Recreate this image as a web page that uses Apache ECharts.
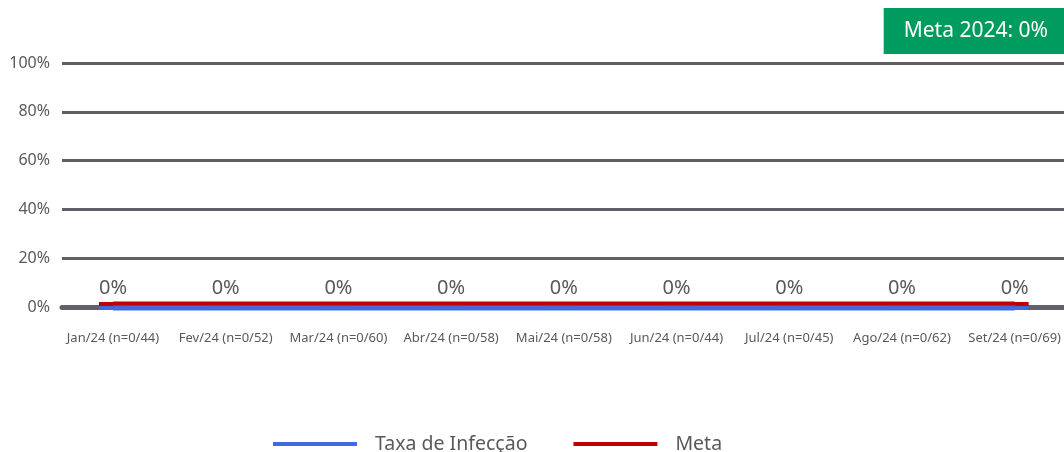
<!DOCTYPE html>
<html>
<head>
<meta charset="utf-8">
<script src="https://cdn.jsdelivr.net/npm/echarts@6/dist/echarts.min.js"></script>
<style>
    html, body {margin: 0; padding: 0; background: #fff;}
    #chart1 {width: 1064px; height: 452px;}
</style>
</head>
<body>
<div id="chart1"></div>
<script>
// dados do gráfico
var categories = ['Jan/24 (n=0/44)', 'Fev/24 (n=0/52)', 'Mar/24 (n=0/60)', 'Abr/24 (n=0/58)', 'Mai/24 (n=0/58)',
    'Jun/24 (n=0/44)', 'Jul/24 (n=0/45)', 'Ago/24 (n=0/62)', 'Set/24 (n=0/69)'];
var taxaInfeccao = [0, 0, 0, 0, 0, 0, 0, 0, 0];
var meta = [0, 0, 0, 0, 0, 0, 0, 0, 0];
var metaAnual = 'Meta 2024: 0%';
var yTicks = [0, 0.2, 0.4, 0.6, 0.8, 1];

window.onload = start_taxa();
function start_taxa() {
    var container = document.getElementById('chart1');
    var myChart = echarts.init(container);
    var fonte = 'Noto Sans';
    var cinza = '#595959';

    var option_taxa = {
        animation: false,
        backgroundColor: '#fff',
        title: {
            text: metaAnual,
            right: 0,
            top: 8,
            backgroundColor: '#009b5e',
            padding: [10, 16, 10, 20],
            textStyle: {
                color: '#fff',
                fontSize: 21,
                fontWeight: 'normal',
                fontFamily: fonte,
                lineHeight: 26
            }
        },
        legend: {
            data: ['Taxa de Infecção', 'Meta'],
            left: 268,
            top: 429,
            icon: 'rect',
            itemWidth: 84,
            itemHeight: 4,
            itemGap: 46,
            textStyle: {
                color: cinza,
                fontSize: 19.5,
                fontFamily: fonte,
                padding: [0, 0, 0, 13]
            }
        },
        grid: [
            {left: 62, right: 0, top: 63, bottom: 145},
            {left: 113, right: 45, top: 63, bottom: 145}
        ],
        xAxis: [
            {
                gridIndex: 0,
                type: 'value',
                min: 0,
                max: 1,
                axisLabel: {show: false},
                axisTick: {show: false},
                splitLine: {show: false},
                axisLine: {show: true, lineStyle: {color: '#606066', width: 5}}
            },
            {
                gridIndex: 1,
                type: 'category',
                data: categories,
                boundaryGap: false,
                axisLine: {show: false},
                axisTick: {show: false},
                axisLabel: {
                    interval: 0,
                    margin: 25,
                    color: cinza,
                    fontSize: 13,
                    fontFamily: fonte
                }
            }
        ],
        yAxis: [
            {
                gridIndex: 0,
                type: 'value',
                min: yTicks[0],
                max: yTicks[yTicks.length - 1],
                interval: yTicks[1] - yTicks[0],
                axisLine: {show: false},
                axisTick: {show: false},
                axisLabel: {
                    margin: 12,
                    color: cinza,
                    fontSize: 16,
                    fontFamily: fonte,
                    formatter: function (v) { return Math.round(v * 100) + '%'; }
                },
                splitLine: {lineStyle: {color: '#5f5f68', width: 3}}
            },
            {
                gridIndex: 1,
                type: 'value',
                min: yTicks[0],
                max: yTicks[yTicks.length - 1],
                show: false
            }
        ],
        series: [
            {
                name: 'Meta',
                type: 'line',
                xAxisIndex: 1,
                yAxisIndex: 1,
                z: 4,
                clip: false,
                data: meta,
                color: '#c00000',
                symbol: 'rect',
                symbolSize: [28, 6],
                symbolOffset: [0, -2],
                showSymbol: true,
                lineStyle: {
                    color: '#c00000',
                    width: 5,
                    shadowColor: '#c00000',
                    shadowBlur: 0,
                    shadowOffsetY: -3
                },
                itemStyle: {color: '#c00000'}
            },
            {
                name: 'Taxa de Infecção',
                type: 'line',
                xAxisIndex: 1,
                yAxisIndex: 1,
                z: 5,
                clip: false,
                data: taxaInfeccao,
                color: '#4169e1',
                symbol: 'rect',
                symbolSize: [28, 4],
                symbolOffset: [0, 1],
                showSymbol: true,
                lineStyle: {
                    color: '#4169e1',
                    width: 3,
                    shadowColor: '#4169e1',
                    shadowBlur: 0,
                    shadowOffsetY: 2
                },
                itemStyle: {color: '#4169e1'},
                label: {
                    show: true,
                    position: 'top',
                    distance: 8,
                    color: cinza,
                    fontSize: 20,
                    fontFamily: fonte,
                    formatter: function (p) { return Math.round(p.value * 100) + '%'; }
                }
            }
        ]
    };

    myChart.setOption(option_taxa);
}
</script>
</body>
</html>
